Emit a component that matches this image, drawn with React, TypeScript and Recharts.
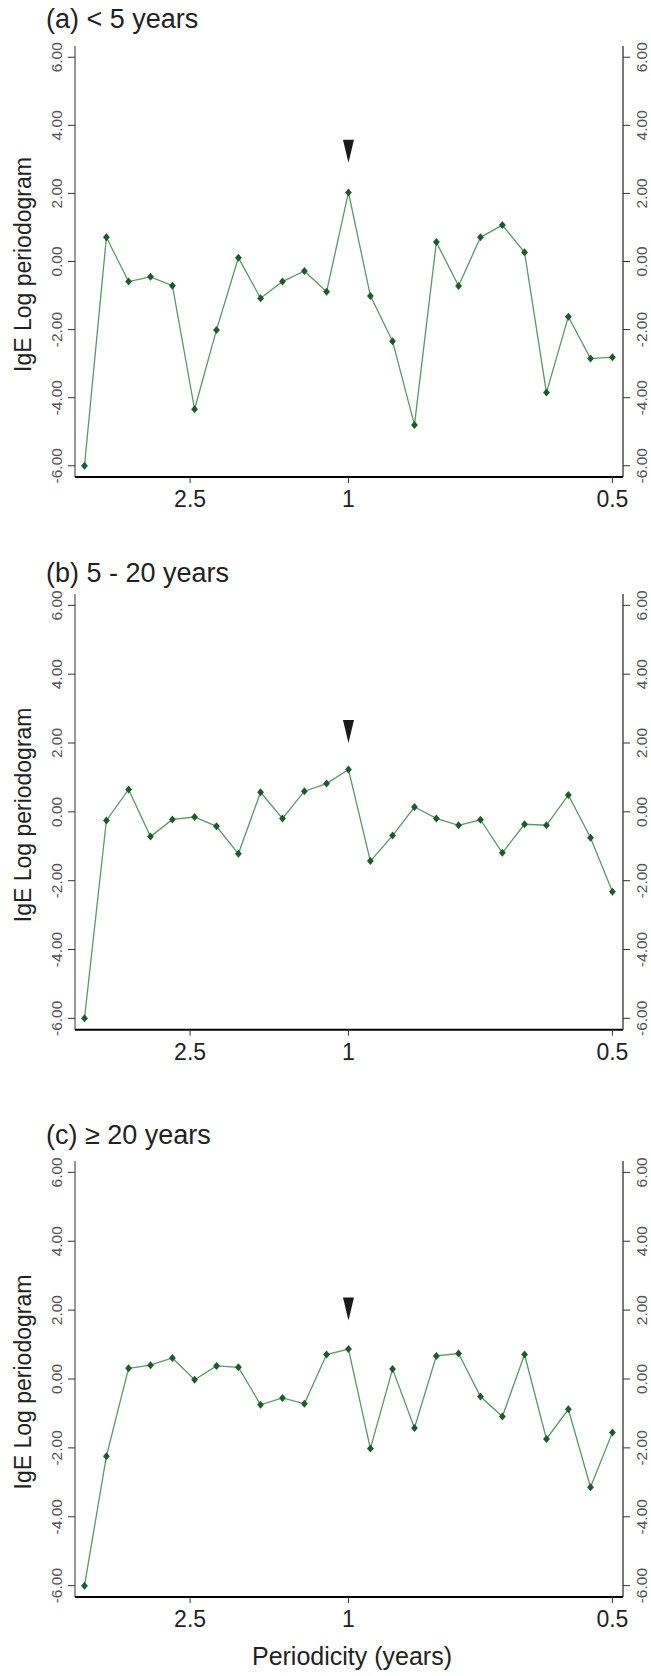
import React from 'react';
import { LineChart, Line, XAxis, YAxis, ReferenceDot } from 'recharts';

// ─── Data ───────────────────────────────────────────────────────────
// frequency in cycles / year (periodicity = 1 / frequency)
const frequency = [
  0, 0.083, 0.167, 0.25, 0.333, 0.417, 0.5, 0.583, 0.667, 0.75, 0.833, 0.917, 1,
  1.083, 1.167, 1.25, 1.333, 1.417, 1.5, 1.583, 1.667, 1.75, 1.833, 1.917, 2,
];

const under5 = [
  -6.0, 0.71, -0.59, -0.45, -0.71, -4.34, -2.01, 0.11, -1.08, -0.59, -0.28, -0.89, 2.03,
  -1.01, -2.34, -4.8, 0.57, -0.72, 0.71, 1.07, 0.27, -3.85, -1.62, -2.85, -2.81,
];

const from5to20 = [
  -6.0, -0.25, 0.65, -0.72, -0.22, -0.15, -0.42, -1.22, 0.57, -0.19, 0.6, 0.82, 1.23,
  -1.43, -0.69, 0.14, -0.19, -0.39, -0.23, -1.19, -0.36, -0.39, 0.49, -0.75, -2.32,
];

const over20 = [
  -6.0, -2.24, 0.31, 0.4, 0.61, -0.02, 0.38, 0.34, -0.75, -0.55, -0.72, 0.71, 0.87,
  -2.02, 0.29, -1.42, 0.67, 0.74, -0.51, -1.09, 0.71, -1.74, -0.88, -3.14, -1.55,
];

const titles = ['(a) < 5 years', '(b) 5 - 20 years', '(c) \u2265 20 years'];
const arrowTips = [2.9, 2.0, 1.7]; // tip of the ▼ marker above the 1-year peak

const periodTicks = [0.4, 1, 2];
const periodLabels = ['2.5', '1', '0.5'];
const yTicks = [-6, -4, -2, 0, 2, 4, 6];

// ─── Styling ────────────────────────────────────────────────────────
const FONT = '"Liberation Sans", Arial, sans-serif';
const LINE = '#5a9866';
const DOT = '#1f5a2c';
const Y_DOMAIN: [number, number] = [-6.33, 6.33];
const X_DOMAIN: [number, number] = [-0.036, 2.04];

// page positions of each plot box (top, bottom) and title baseline
const layout = [
  { top: 45.7, bottom: 476.7, title: 28 },
  { top: 594.3, bottom: 1030, title: 582 },
  { top: 1160.7, bottom: 1596.7, title: 1144 },
];

const TOP_MARGIN = 46;

function Diamond(props: any) {
  const { cx, cy, index } = props;
  if (cx == null || cy == null) return null;
  return (
    <path
      key={index}
      d={`M${cx},${cy - 4} L${cx + 3.4},${cy} L${cx},${cy + 4} L${cx - 3.4},${cy} Z`}
      fill={DOT}
    />
  );
}

function Arrow(props: any) {
  const { cx, cy } = props;
  return <path d={`M${cx - 5.5},${cy - 23} L${cx + 5.5},${cy - 23} L${cx},${cy} Z`} fill="#1a1a1a" />;
}

function LeftTick(props: any) {
  const { y, payload } = props;
  return (
    <text
      transform={`translate(62, ${y}) rotate(-90)`}
      textAnchor="middle"
      fontSize={15.5}
      fontFamily={FONT}
      fill="#555"
    >
      {payload.value.toFixed(2)}
    </text>
  );
}

function RightTick(props: any) {
  const { y, payload } = props;
  return (
    <text
      transform={`translate(647, ${y}) rotate(-90)`}
      textAnchor="middle"
      fontSize={15.5}
      fontFamily={FONT}
      fill="#555"
    >
      {payload.value.toFixed(2)}
    </text>
  );
}

function PeriodTick(props: any) {
  const { x, payload, axisY } = props;
  const i = periodTicks.indexOf(payload.value);
  return (
    <text x={x} y={axisY + 30} textAnchor="middle" fontSize={23} fontFamily={FONT} fill="#222">
      {periodLabels[i]}
    </text>
  );
}

function Panel({ idx, values, showXLabel }: { idx: number; values: number[]; showXLabel: boolean }) {
  const box = layout[idx];
  const plotH = box.bottom - box.top;
  const xAxisH = showXLabel ? 80 : 45;
  const height = TOP_MARGIN + plotH + xAxisH;
  const data = frequency.map((f, i) => ({ f, v: values[i] }));
  const axisY = TOP_MARGIN + plotH;

  const yLabel = (p: any) => {
    const vb = p.viewBox;
    const cy = vb.y + vb.height / 2 + 3;
    return (
      <text transform={`translate(31, ${cy}) rotate(-90)`} textAnchor="middle" fontSize={23} fontFamily={FONT} fill="#222">
        IgE Log periodogram
      </text>
    );
  };

  const xLabel = () => (
    <text x={352} y={axisY + 68} textAnchor="middle" fontSize={25} fontFamily={FONT} fill="#222">
      Periodicity (years)
    </text>
  );

  return (
    <div style={{ position: 'absolute', left: 0, top: box.top - TOP_MARGIN }}>
      <LineChart width={651} height={height} data={data} margin={{ top: TOP_MARGIN, right: 0, bottom: 0, left: 0 }}>
        <XAxis
          dataKey="f"
          type="number"
          domain={X_DOMAIN}
          allowDataOverflow
          ticks={periodTicks}
          height={xAxisH}
          axisLine={{ stroke: '#000', strokeWidth: 2 }}
          tickLine={{ stroke: '#333' }}
          tickSize={6}
          tick={<PeriodTick axisY={axisY} />}
          label={showXLabel ? xLabel : undefined}
        />
        <XAxis
          xAxisId="top"
          orientation="top"
          dataKey="f"
          type="number"
          domain={X_DOMAIN}
          allowDataOverflow
          height={0}
          tick={false}
          tickLine={false}
          axisLine={{ stroke: '#333', strokeWidth: 1 }}
        />
        <YAxis
          yAxisId="left"
          type="number"
          domain={Y_DOMAIN}
          allowDataOverflow
          ticks={yTicks}
          width={75}
          tickSize={7}
          axisLine={{ stroke: '#333', strokeWidth: 1 }}
          tickLine={{ stroke: '#333' }}
          tick={<LeftTick />}
          label={yLabel}
        />
        <YAxis
          yAxisId="right"
          orientation="right"
          type="number"
          domain={Y_DOMAIN}
          allowDataOverflow
          ticks={yTicks}
          width={28}
          tickSize={7}
          axisLine={{ stroke: '#333', strokeWidth: 1.3 }}
          tickLine={{ stroke: '#333' }}
          tick={<RightTick />}
        />
        <Line
          yAxisId="left"
          type="linear"
          dataKey="v"
          stroke={LINE}
          strokeWidth={1.3}
          dot={Diamond}
          activeDot={false}
          isAnimationActive={false}
        />
        <ReferenceDot yAxisId="left" x={1} y={arrowTips[idx]} r={0} shape={Arrow} />
      </LineChart>
    </div>
  );
}

export default function App() {
  return (
    <div style={{ position: 'absolute', left: 0, top: 0, width: 651, height: 1676, background: '#fff', fontFamily: FONT }}>
      <Panel idx={0} values={under5} showXLabel={false} />
      <Panel idx={1} values={from5to20} showXLabel={false} />
      <Panel idx={2} values={over20} showXLabel={true} />
      <svg width={651} height={1676} style={{ position: 'absolute', left: 0, top: 0, pointerEvents: 'none' }}>
        {titles.map((t, i) => (
          <text key={t} x={46} y={layout[i].title} fontSize={27} fontFamily={FONT} fill="#222">
            {t}
          </text>
        ))}
      </svg>
    </div>
  );
}
